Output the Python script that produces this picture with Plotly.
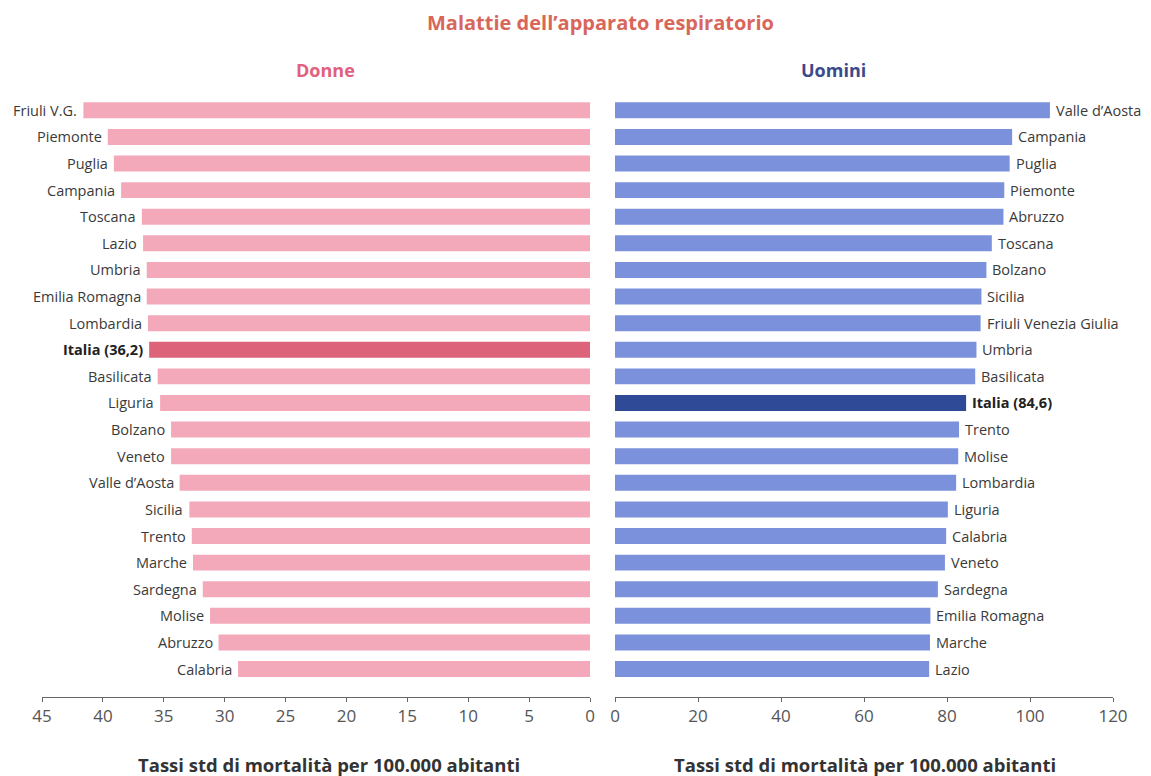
import plotly.graph_objects as go
from plotly.subplots import make_subplots

donne_regioni = ["Friuli V.G.", "Piemonte", "Puglia", "Campania", "Toscana", "Lazio",
                 "Umbria", "Emilia Romagna", "Lombardia", "Italia (36,2)", "Basilicata",
                 "Liguria", "Bolzano", "Veneto", "Valle d’Aosta", "Sicilia", "Trento",
                 "Marche", "Sardegna", "Molise", "Abruzzo", "Calabria"]
donne_tassi = [41.6, 39.6, 39.1, 38.5, 36.8, 36.7, 36.4, 36.4, 36.3, 36.2, 35.5,
               35.3, 34.4, 34.4, 33.7, 32.9, 32.7, 32.6, 31.8, 31.2, 30.5, 28.9]

uomini_regioni = ["Valle d’Aosta", "Campania", "Puglia", "Piemonte", "Abruzzo", "Toscana",
                  "Bolzano", "Sicilia", "Friuli Venezia Giulia", "Umbria", "Basilicata",
                  "Italia (84,6)", "Trento", "Molise", "Lombardia", "Liguria", "Calabria",
                  "Veneto", "Sardegna", "Emilia Romagna", "Marche", "Lazio"]
uomini_tassi = [104.8, 95.7, 95.1, 93.8, 93.6, 90.8, 89.5, 88.3, 88.1, 87.1, 86.8,
                84.6, 82.9, 82.7, 82.2, 80.2, 79.8, 79.5, 77.8, 76.0, 75.9, 75.7]

FONT = "Open Sans"
PINK, PINK_DARK = "#f4a9ba", "#dc6379"
BLUE, BLUE_DARK = "#7b91dc", "#2f4a97"

# page body has an 8px margin, so the figure is drawn a bit smaller than the window
W, H = 1143, 768

fig = make_subplots(rows=1, cols=2)

donne_colors = [PINK_DARK if r.startswith("Italia") else PINK for r in donne_regioni]
uomini_colors = [BLUE_DARK if r.startswith("Italia") else BLUE for r in uomini_regioni]

fig.add_trace(go.Bar(x=donne_tassi, y=donne_regioni, orientation="h",
                     marker_color=donne_colors, marker_line_width=0), row=1, col=1)
fig.add_trace(go.Bar(x=uomini_tassi, y=uomini_regioni, orientation="h",
                     marker_color=uomini_colors, marker_line_width=0), row=1, col=2)

annotations = []
for r, v in zip(donne_regioni, donne_tassi):
    bold = r.startswith("Italia")
    annotations.append(dict(x=v, y=r, xref="x", yref="y", xanchor="right", xshift=-4,
                            text=f"<b>{r}</b>" if bold else r, showarrow=False,
                            font=dict(family=FONT, size=14.5, color="#222" if bold else "#3a3a3a")))
for r, v in zip(uomini_regioni, uomini_tassi):
    bold = r.startswith("Italia")
    annotations.append(dict(x=v, y=r, xref="x2", yref="y2", xanchor="left", xshift=4,
                            text=f"<b>{r}</b>" if bold else r, showarrow=False,
                            font=dict(family=FONT, size=14.5, color="#222" if bold else "#3a3a3a")))

annotations += [
    dict(x=0.518, y=1.125, xref="paper", yref="paper", xanchor="center", yanchor="middle",
         showarrow=False, text="<b>Malattie dell’apparato respiratorio</b>",
         font=dict(family=FONT, size=20, color="#d9665a")),
    dict(x=0.278, y=1.045, xref="paper", yref="paper", xanchor="center", yanchor="middle",
         showarrow=False, text="<b>Donne</b>", font=dict(family=FONT, size=18, color="#e0607e")),
    dict(x=0.722, y=1.045, xref="paper", yref="paper", xanchor="center", yanchor="middle",
         showarrow=False, text="<b>Uomini</b>", font=dict(family=FONT, size=18, color="#3b4a8a")),
    dict(x=0.281, y=-0.113, xref="paper", yref="paper", xanchor="center", yanchor="middle",
         showarrow=False, text="<b>Tassi std di mortalità per 100.000 abitanti</b>",
         font=dict(family=FONT, size=18.5, color="#333")),
    dict(x=0.750, y=-0.113, xref="paper", yref="paper", xanchor="center", yanchor="middle",
         showarrow=False, text="<b>Tassi std di mortalità per 100.000 abitanti</b>",
         font=dict(family=FONT, size=18.5, color="#333")),
]

axis_style = dict(showgrid=False, zeroline=False, showline=True, linecolor="#666",
                  linewidth=1, ticks="outside", ticklen=4, tickcolor="#666", automargin=False,
                  tickfont=dict(family=FONT, size=17, color="#555"))

fig.update_xaxes(range=[45, 0], tickvals=[45, 40, 35, 30, 25, 20, 15, 10, 5, 0],
                 domain=[34 / W, 582 / W], row=1, col=1, **axis_style)
fig.update_xaxes(range=[0, 120], tickvals=[0, 20, 40, 60, 80, 100, 120],
                 domain=[607 / W, 1105 / W], row=1, col=2, **axis_style)
fig.update_yaxes(range=[22.05, -0.5], showticklabels=False, showgrid=False,
                 zeroline=False, showline=False, automargin=False)

fig.update_layout(
    width=W, height=H,
    margin=dict(l=0, r=0, t=89, b=79, autoexpand=False),
    plot_bgcolor="white", paper_bgcolor="white",
    showlegend=False, bargap=0.4,
    annotations=annotations,
)

fig.write_html("out.html")
